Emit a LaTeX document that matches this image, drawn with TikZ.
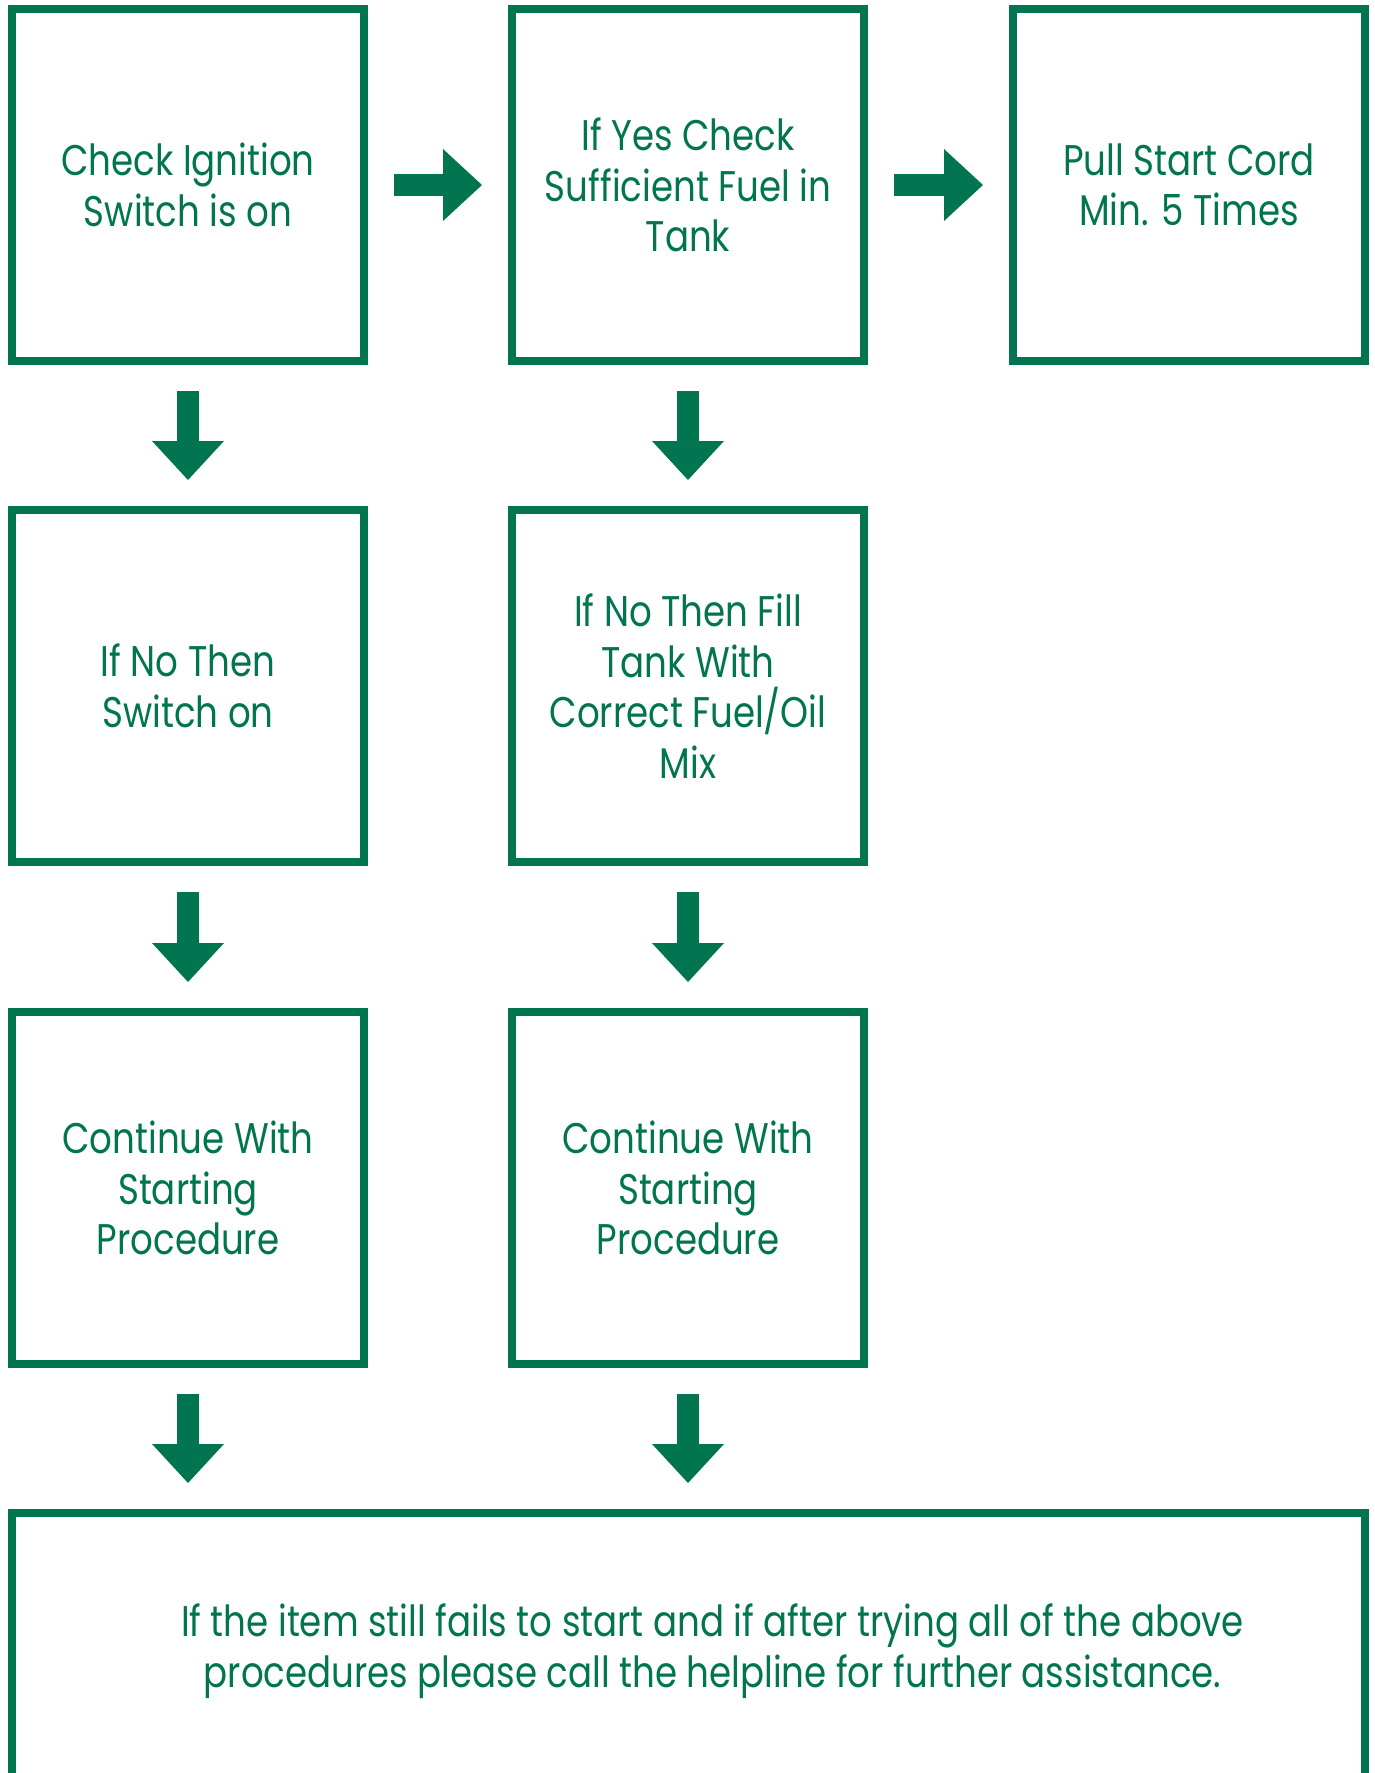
\documentclass[tikz,border=0pt]{standalone}
\usepackage{fontspec}
\setmainfont[FakeStretch=0.83]{Poppins}
\usepackage{xcolor}
\usepackage{tikz}
\usetikzlibrary{arrows.meta,positioning,calc}
\definecolor{hgreen}{RGB}{0,117,79}

\begin{document}
\begin{tikzpicture}[
  every node/.style={font=\fontsize{12.2}{14.4}\selectfont, text=hgreen},
  bx/.style={draw=hgreen, line width=0.8mm, align=center, inner sep=0pt,
             minimum width=3.52cm, minimum height=3.52cm},
  wide/.style={bx, minimum width=13.53cm, minimum height=2.76cm},
  ar/.style={draw=hgreen, line width=2.2mm, shorten <=2.6mm, shorten >=2.6mm,
             -{Triangle[length=3.9mm, width=7.2mm, line width=0pt]}}]
  \useasboundingbox (0,0) rectangle (13.75,-17.73);
  \node[bx] (ign) at (1.88,-1.85)
    {Check Ignition\\Switch is on};
  \node[bx] (fuel) at (6.88,-1.85)
    {If Yes Check\\Sufficient Fuel in\\Tank};
  \node[bx] (cord) at (11.89,-1.85)
    {Pull Start Cord\\Min. 5 Times};
  \node[bx] (swon) at (1.88,-6.86)
    {If No Then\\Switch on};
  \node[bx] (fill) at (6.88,-6.86)
    {If No Then Fill\\Tank With\\Correct Fuel/Oil\\Mix};
  \node[bx] (contA) at (1.88,-11.88)
    {Continue With\\Starting\\Procedure};
  \node[bx] (contB) at (6.88,-11.88)
    {Continue With\\Starting\\Procedure};
  \node[wide] (help) at (6.885,-16.51)
    {\hspace*{0.48cm}If the item still fails to start and if after trying all of the above\\
     \hspace*{0.48cm}procedures please call the helpline for further assistance.};
  \draw[ar] (ign) -- (fuel);  \draw[ar] (fuel) -- (cord);
  \draw[ar] (ign) -- (swon);  \draw[ar] (fuel) -- (fill);
  \draw[ar] (swon) -- (contA);  \draw[ar] (fill) -- (contB);
  \draw[ar] (contA) -- (contA |- help.north);
  \draw[ar] (contB) -- (contB |- help.north);
\end{tikzpicture}
\end{document}
